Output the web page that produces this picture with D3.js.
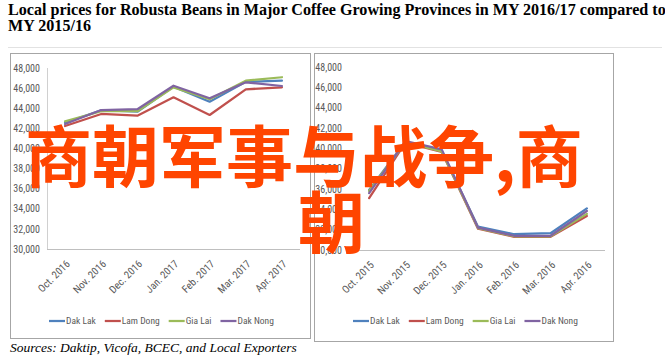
<!DOCTYPE html>
<html><head><meta charset="utf-8">
<script src="https://cdn.jsdelivr.net/npm/d3@7"></script>
<style>
body{margin:0;background:#fff;}
svg{display:block;}
</style></head><body>
<svg id="c" width="665" height="359"></svg>
<script>
// ---- data ----
const titleLines = ["Local prices for Robusta Beans in Major Coffee Growing Provinces in MY 2016/17 compared to", "MY 2015/16"];
const sourceText = "Sources: Daktip, Vicofa, BCEC, and Local Exporters";
const seriesNames = ["Dak Lak", "Lam Dong", "Gia Lai", "Dak Nong"];
const seriesColors = ["#4F81BD", "#C0504D", "#9BBB59", "#8064A2"];
const monthsLeft = ["Oct. 2016", "Nov. 2016", "Dec. 2016", "Jan. 2017", "Feb. 2017", "Mar. 2017", "Apr. 2017"];
const monthsRight = ["Oct. 2015", "Nov. 2015", "Dec. 2015", "Jan. 2016", "Feb. 2016", "Mar. 2016", "Apr. 2016"];
const yTicks = [30000, 32000, 34000, 36000, 38000, 40000, 42000, 44000, 46000, 48000];
const dakLak1617 = [42560, 43800, 43650, 46150, 44650, 46620, 46740];
const lamDong1617 = [42230, 43430, 43260, 45080, 43330, 45880, 46080];
const giaLai1617 = [42700, 43700, 43700, 46080, 44900, 46740, 47080];
const dakNong1617 = [42430, 43820, 43900, 46240, 44990, 46580, 46210];
const dakLak1516 = [35900, 40650, 39750, 32300, 31550, 31650, 34100];
const lamDong1516 = [35100, 40550, 39650, 32100, 31300, 31300, 33350];
const giaLai1516 = [35800, 40600, 39700, 32150, 31350, 31350, 33550];
const dakNong1516 = [35600, 40700, 39900, 32200, 31400, 31400, 33840];
const watermarkLines = ["商朝军事与战争,商", "朝"];

// ---- drawing ----
const svg = d3.select("#c");
const narrow = "'Liberation Sans Narrow','Roboto Condensed','Arial Narrow',sans-serif";
const serif = "'Liberation Serif','Times New Roman',serif";

// title
svg.append("g").selectAll("text").data(titleLines).join("text")
  .attr("x", 8).attr("y", (d, i) => 15 + i * 15.5)
  .attr("font-family", serif).attr("font-weight", "bold").attr("font-size", 16.1)
  .attr("fill", "#000").text(d => d);

svg.append("line").attr("x1", 8).attr("x2", 662).attr("y1", 47.5).attr("y2", 47.5)
  .attr("stroke", "#e2e2e2").attr("stroke-width", 1);

const panels = [
  {box: [10, 53, 310, 338], plot: [47, 300, 68, 249], labelX: 40, months: monthsLeft,
   series: [dakLak1617, lamDong1617, giaLai1617, dakNong1617], yAxisLine: true, legendX: 49, legendY: 321},
  {box: [314, 53, 613, 341], plot: [351, 605, 67, 250], labelX: 342, months: monthsRight,
   series: [dakLak1516, lamDong1516, giaLai1516, dakNong1516], yAxisLine: false, legendX: 353, legendY: 321}
];

panels.forEach(p => {
  const g = svg.append("g");
  const [bx0, by0, bx1, by1] = p.box;
  g.append("rect").attr("x", bx0 + 0.5).attr("y", by0 + 0.5)
    .attr("width", bx1 - bx0).attr("height", by1 - by0)
    .attr("fill", "#fff").attr("stroke", "#a6a6a6").attr("stroke-width", 1);

  const [px0, px1, py0, py1] = p.plot;
  const x = d3.scaleBand().domain(p.months).range([px0, px1]);
  const y = d3.scaleLinear().domain([30000, 48000]).range([py1, py0]);

  // y axis
  const ya = g.append("g").attr("transform", `translate(${p.labelX + 3},0)`)
    .call(d3.axisLeft(y).tickValues(yTicks).tickSize(0).tickPadding(3).tickFormat(d3.format(",")));
  ya.select(".domain").remove();
  ya.selectAll("text").attr("font-family", narrow).attr("font-size", 10).attr("fill", "#595959");
  if (p.yAxisLine) {
    g.append("line").attr("x1", px0 + 0.5).attr("x2", px0 + 0.5).attr("y1", py0).attr("y2", py1)
      .attr("stroke", "#d0d0d0");
  }
  // x axis
  const xa = g.append("g").attr("transform", `translate(0,${py1})`)
    .call(d3.axisBottom(x).tickSize(0).tickPadding(0));
  xa.select(".domain").attr("stroke", "#bfbfbf").attr("d", `M${px0},0.5H${px1}`);
  xa.selectAll("text")
    .attr("font-family", narrow).attr("font-size", 10.5).attr("fill", "#595959")
    .attr("text-anchor", "end").attr("dy", "0.35em")
    .attr("transform", "translate(3,13) rotate(-45)");

  // lines
  const line = d3.line().x((d, i) => x(p.months[i]) + x.bandwidth() / 2).y(d => y(d));
  p.series.forEach((s, k) => {
    g.append("path").datum(s).attr("d", line).attr("fill", "none")
      .attr("stroke", seriesColors[k]).attr("stroke-width", 2.25)
      .attr("stroke-linejoin", "round").attr("stroke-linecap", "round");
  });

  // legend
  let lx = p.legendX;
  seriesNames.forEach((n, k) => {
    g.append("line").attr("x1", lx).attr("x2", lx + 16).attr("y1", p.legendY).attr("y2", p.legendY)
      .attr("stroke", seriesColors[k]).attr("stroke-width", 2.25);
    const t = g.append("text").attr("x", lx + 17).attr("y", p.legendY).attr("dy", "0.35em")
      .attr("font-family", narrow).attr("font-size", 9.5).attr("fill", "#595959").text(n);
    lx += 17 + t.node().getComputedTextLength() + 9;
  });
});

// source
svg.append("text").attr("x", 10).attr("y", 352)
  .attr("font-family", serif).attr("font-style", "italic").attr("font-size", 13.5)
  .attr("fill", "#000").text(sourceText);

// watermark overlay
svg.append("g").selectAll("text").data(watermarkLines).join("text")
  .attr("x", (d, i) => i === 0 ? 25 : 298).attr("y", (d, i) => i === 0 ? 182 : 248)
  .attr("font-family", "'Noto Sans CJK SC',sans-serif").attr("font-weight", "bold")
  .attr("font-size", 67).attr("fill", "#ff4500").text(d => d);
</script>
</body></html>
